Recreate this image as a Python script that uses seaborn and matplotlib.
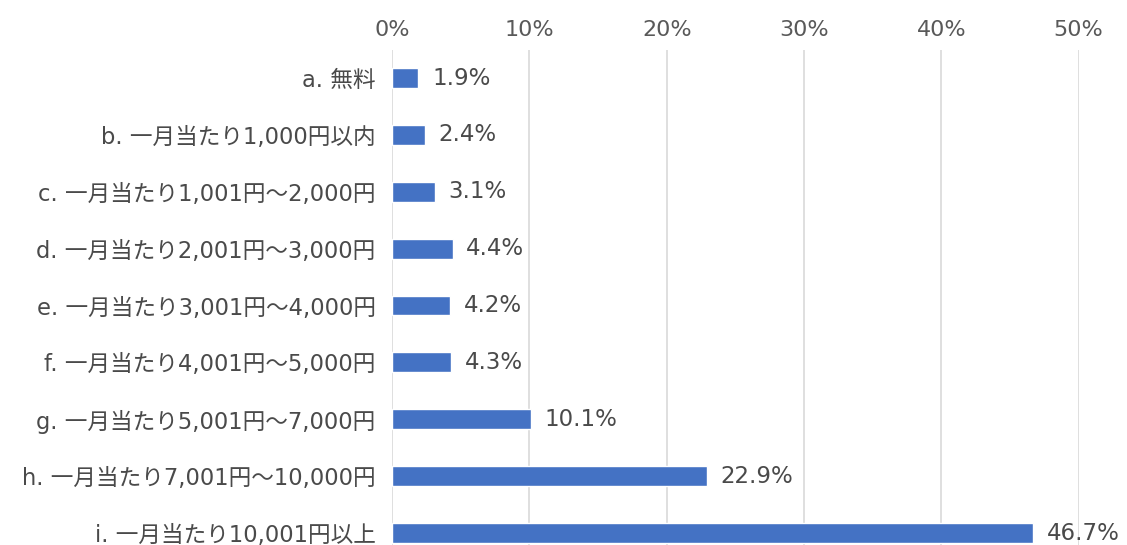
import matplotlib
matplotlib.use('Agg')
import matplotlib.pyplot as plt
import seaborn as sns
import pandas as pd

# Data
categories = [
    'a. 無料',
    'b. 一月当たり1,000円以内',
    'c. 一月当たり1,001円～2,000円',
    'd. 一月当たり2,001円～3,000円',
    'e. 一月当たり3,001円～4,000円',
    'f. 一月当たり4,001円～5,000円',
    'g. 一月当たり5,001円～7,000円',
    'h. 一月当たり7,001円～10,000円',
    'i. 一月当たり10,001円以上',
]
values = [1.9, 2.4, 3.1, 4.4, 4.2, 4.3, 10.1, 22.9, 46.7]
x_ticks = [0, 10, 20, 30, 40, 50]

df = pd.DataFrame({'category': categories, 'value': values})

sns.set_theme(style='white')
plt.rcParams['font.family'] = ['DejaVu Sans', 'Noto Sans CJK JP']

fig = plt.figure(figsize=(11.27, 5.45), dpi=100)
ax = fig.add_axes([0.348, 0.0, 0.609, 0.908])

sns.barplot(data=df, x='value', y='category', color='#4472C4', saturation=1,
            width=0.35, ax=ax, zorder=3)

# value labels next to bars
for i, v in enumerate(values):
    ax.text(v + 1.0, i, f'{v:.1f}%', va='center', ha='left', fontsize=16.5, color='#4a4a4a')

ax.set_xlim(0, 50)
ax.set_ylim(8.21, -0.49)
ax.set_xticks(x_ticks)
ax.set_xticklabels([f'{t}%' for t in x_ticks], fontsize=16, color='#595959')
ax.xaxis.tick_top()
ax.tick_params(axis='x', length=0, pad=7)
ax.tick_params(axis='y', length=0, pad=12, labelsize=16.3, labelcolor='#4a4a4a')
ax.set_xlabel('')
ax.set_ylabel('')
ax.grid(axis='x', color='#d9d9d9', linewidth=1.2, zorder=0)
for s in ax.spines.values():
    s.set_visible(False)

fig.savefig('out.png', dpi=100)
